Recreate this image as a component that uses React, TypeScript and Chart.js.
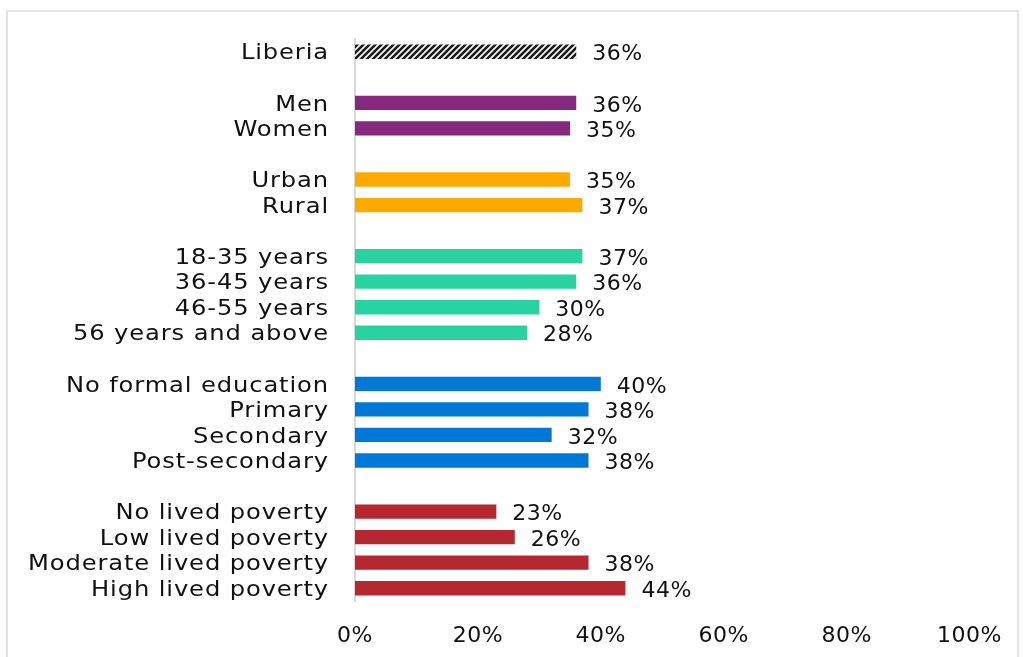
import React, { useEffect, useRef } from "react";
import { Chart, registerables } from "chart.js";

Chart.register(...registerables);

const categories = [
  "Liberia", "",
  "Men", "Women", "",
  "Urban", "Rural", "",
  "18-35 years", "36-45 years", "46-55 years", "56 years and above", "",
  "No formal education", "Primary", "Secondary", "Post-secondary", "",
  "No lived poverty", "Low lived poverty", "Moderate lived poverty", "High lived poverty",
];

const values: (number | null)[] = [
  36, null,
  36, 35, null,
  35, 37, null,
  37, 36, 30, 28, null,
  40, 38, 32, 38, null,
  23, 26, 38, 44,
];

const groupColors: string[] = [
  "hatch", "",
  "#86287E", "#86287E", "",
  "#FFAA00", "#FFAA00", "",
  "#29D3A1", "#29D3A1", "#29D3A1", "#29D3A1", "",
  "#0078D7", "#0078D7", "#0078D7", "#0078D7", "",
  "#B5282F", "#B5282F", "#B5282F", "#B5282F",
];

const xTicks = [0, 20, 40, 60, 80, 100];

const FONT = "'DejaVu Sans'";

function makeHatch(): CanvasPattern | string {
  const c = document.createElement("canvas");
  const s = 6;
  c.width = s;
  c.height = s;
  const ctx = c.getContext("2d");
  if (!ctx) return "#333";
  ctx.fillStyle = "#ffffff";
  ctx.fillRect(0, 0, s, s);
  ctx.strokeStyle = "#1a1a1a";
  ctx.lineWidth = 2.6;
  ctx.beginPath();
  ctx.moveTo(-1, s + 1);
  ctx.lineTo(s + 1, -1);
  ctx.moveTo(-1, 1);
  ctx.lineTo(1, -1);
  ctx.moveTo(s - 1, s + 1);
  ctx.lineTo(s + 1, s - 1);
  ctx.stroke();
  const p = ctx.createPattern(c, "repeat");
  return p || "#333";
}

const textPlugin = {
  id: "textPlugin",
  beforeDraw(chart: any) {
    (chart.ctx as any).letterSpacing = "0.5px";
  },
  afterDatasetsDraw(chart: any) {
    const ctx = chart.ctx;
    const meta = chart.getDatasetMeta(0);
    const yScale = chart.scales.y;
    ctx.save();
    ctx.fillStyle = "#111111";
    ctx.textBaseline = "middle";
    // category labels
    ctx.font = `22px ${FONT}`;
    (ctx as any).letterSpacing = "0.8px";
    ctx.textAlign = "right";
    categories.forEach((label, i) => {
      if (!label) return;
      const y = yScale.getPixelForValue(i);
      ctx.save();
      ctx.translate(329, y + 2);
      ctx.scale(1.1, 1);
      ctx.fillText(label, 0, 0);
      ctx.restore();
    });
    // value labels
    (ctx as any).letterSpacing = "0.5px";
    ctx.textAlign = "left";
    ctx.font = `22px ${FONT}`;
    meta.data.forEach((bar: any, i: number) => {
      const v = values[i];
      if (v === null || v === undefined) return;
      ctx.fillText(`${v}%`, bar.x + 16, bar.y + 3);
    });
    ctx.restore();
  },
};

export default function App() {
  const ref = useRef<HTMLCanvasElement | null>(null);
  useEffect(() => {
    if (!ref.current) return;
    const hatch = makeHatch();
    const colors = groupColors.map((c) => (c === "hatch" ? hatch : c || "transparent"));
    const chart = new Chart(ref.current, {
      type: "bar",
      data: {
        labels: categories,
        datasets: [
          {
            data: values,
            backgroundColor: colors as any,
            borderWidth: 0,
            barPercentage: 0.56,
            categoryPercentage: 1,
          },
        ],
      },
      plugins: [textPlugin],
      options: {
        indexAxis: "y",
        animation: false,
        responsive: false,
        maintainAspectRatio: false,
        layout: { padding: { top: 39, right: 45, left: 0, bottom: 0 } },
        plugins: {
          legend: { display: false },
          tooltip: { enabled: false },
        },
        scales: {
          x: {
            min: 0,
            max: 100,
            afterBuildTicks: (scale: any) => {
              scale.ticks = xTicks.map((v) => ({ value: v }));
            },
            afterFit: (scale: any) => {
              scale.height = 56;
            },
            grid: { display: false, drawTicks: false },
            border: { display: false },
            ticks: {
              padding: 22,
              color: "#111111",
              font: { family: FONT, size: 22 },
              callback: (v: any) => `${v}%`,
              maxRotation: 0,
            },
          },
          y: {
            afterFit: (scale: any) => {
              scale.width = 355;
            },
            grid: { display: false, drawTicks: false },
            border: { display: true, color: "#d9d9d9", width: 2 },
            ticks: {
              display: false,
              autoSkip: false,
            },
          },
        },
      } as any,
    });
    return () => chart.destroy();
  }, []);

  return (
    <div style={{ position: "fixed", left: 0, top: 0, width: 1023, height: 657, background: "#fff", overflow: "hidden" }}>
      <div
        style={{
          position: "absolute",
          left: 6,
          top: 10,
          width: 1013,
          height: 700,
          border: "2px solid #e3e3e3",
          boxSizing: "border-box",
        }}
      />
      <canvas ref={ref} width={1023} height={657} style={{ position: "absolute", left: 0, top: 0 }} />
    </div>
  );
}
